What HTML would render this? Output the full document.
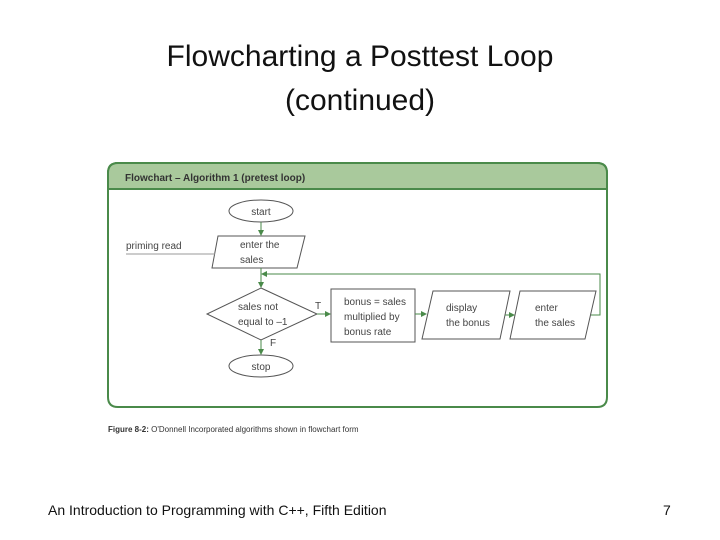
<!DOCTYPE html>
<html><head><style>
body{margin:0;width:720px;height:540px;background:#fff;position:relative;overflow:hidden;font-family:"Liberation Sans",sans-serif}
.t{position:absolute;left:0;width:720px;text-align:center;font-size:30px;color:#111;line-height:44px}
.f{position:absolute;bottom:22px;font-size:14px;color:#111}
</style></head><body>
<div class="t" style="top:35px">Flowcharting a Posttest Loop<br>(continued)</div>
<svg width="720" height="540" style="position:absolute;left:0;top:0" font-family="Liberation Sans, sans-serif">
<defs><marker id="a" markerWidth="6" markerHeight="6" refX="5" refY="3" orient="auto"><path d="M0,0L6,3L0,6z" fill="#4a8a4a"/></marker></defs>
<path d="M118,163H597Q607,163 607,173V397Q607,407 597,407H118Q108,407 108,397V173Q108,163 118,163Z" fill="#fff" stroke="#4a8a4a" stroke-width="2"/>
<path d="M118,163H597Q607,163 607,173V189H108V173Q108,163 118,163Z" fill="#a9c99c" stroke="#4a8a4a" stroke-width="2"/>
<text x="125" y="181" font-size="10" font-weight="bold" fill="#333">Flowchart – Algorithm 1 (pretest loop)</text>
<g stroke="#555" stroke-width="1" fill="#fff">
<ellipse cx="261" cy="211" rx="32" ry="11"/>
<polygon points="218,236 305,236 297,268 212,268"/>
<polygon points="261,288 317,314 261,340 207,314"/>
<ellipse cx="261" cy="366" rx="32" ry="11"/>
<rect x="331" y="289" width="84" height="53"/>
<polygon points="433,291 510,291 500,339 422,339"/>
<polygon points="520,291 596,291 585,339 510,339"/>
<line x1="126" y1="254" x2="215" y2="254" stroke="#999"/>
</g>
<g stroke="#4a8a4a" stroke-width="1" fill="none" marker-end="url(#a)">
<line x1="261" y1="222" x2="261" y2="235"/>
<line x1="261" y1="268" x2="261" y2="287"/>
<line x1="317" y1="314" x2="330" y2="314"/>
<line x1="415" y1="314" x2="426" y2="314"/>
<line x1="505" y1="315" x2="514" y2="315"/>
<line x1="261" y1="340" x2="261" y2="354"/>
<polyline points="591,315 600,315 600,274 262,274"/>
</g>
<g font-size="10" fill="#444">
<text x="261" y="215" text-anchor="middle">start</text>
<text x="240" y="248">enter the</text><text x="240" y="263">sales</text>
<text x="126" y="249">priming read</text>
<text x="238" y="310">sales not</text><text x="238" y="325">equal to –1</text>
<text x="315" y="309">T</text><text x="270" y="346">F</text>
<text x="261" y="370" text-anchor="middle">stop</text>
<text x="344" y="305">bonus = sales</text><text x="344" y="320">multiplied by</text><text x="344" y="335">bonus rate</text>
<text x="446" y="311">display</text><text x="446" y="326">the bonus</text>
<text x="535" y="311">enter</text><text x="535" y="326">the sales</text>
</g>
<text x="108" y="432" font-size="8" fill="#333"><tspan font-weight="bold">Figure 8-2:</tspan> O'Donnell Incorporated algorithms shown in flowchart form</text>
</svg>
<div class="f" style="left:48px">An Introduction to Programming with C++, Fifth Edition</div>
<div class="f" style="left:663px">7</div>
</body></html>
